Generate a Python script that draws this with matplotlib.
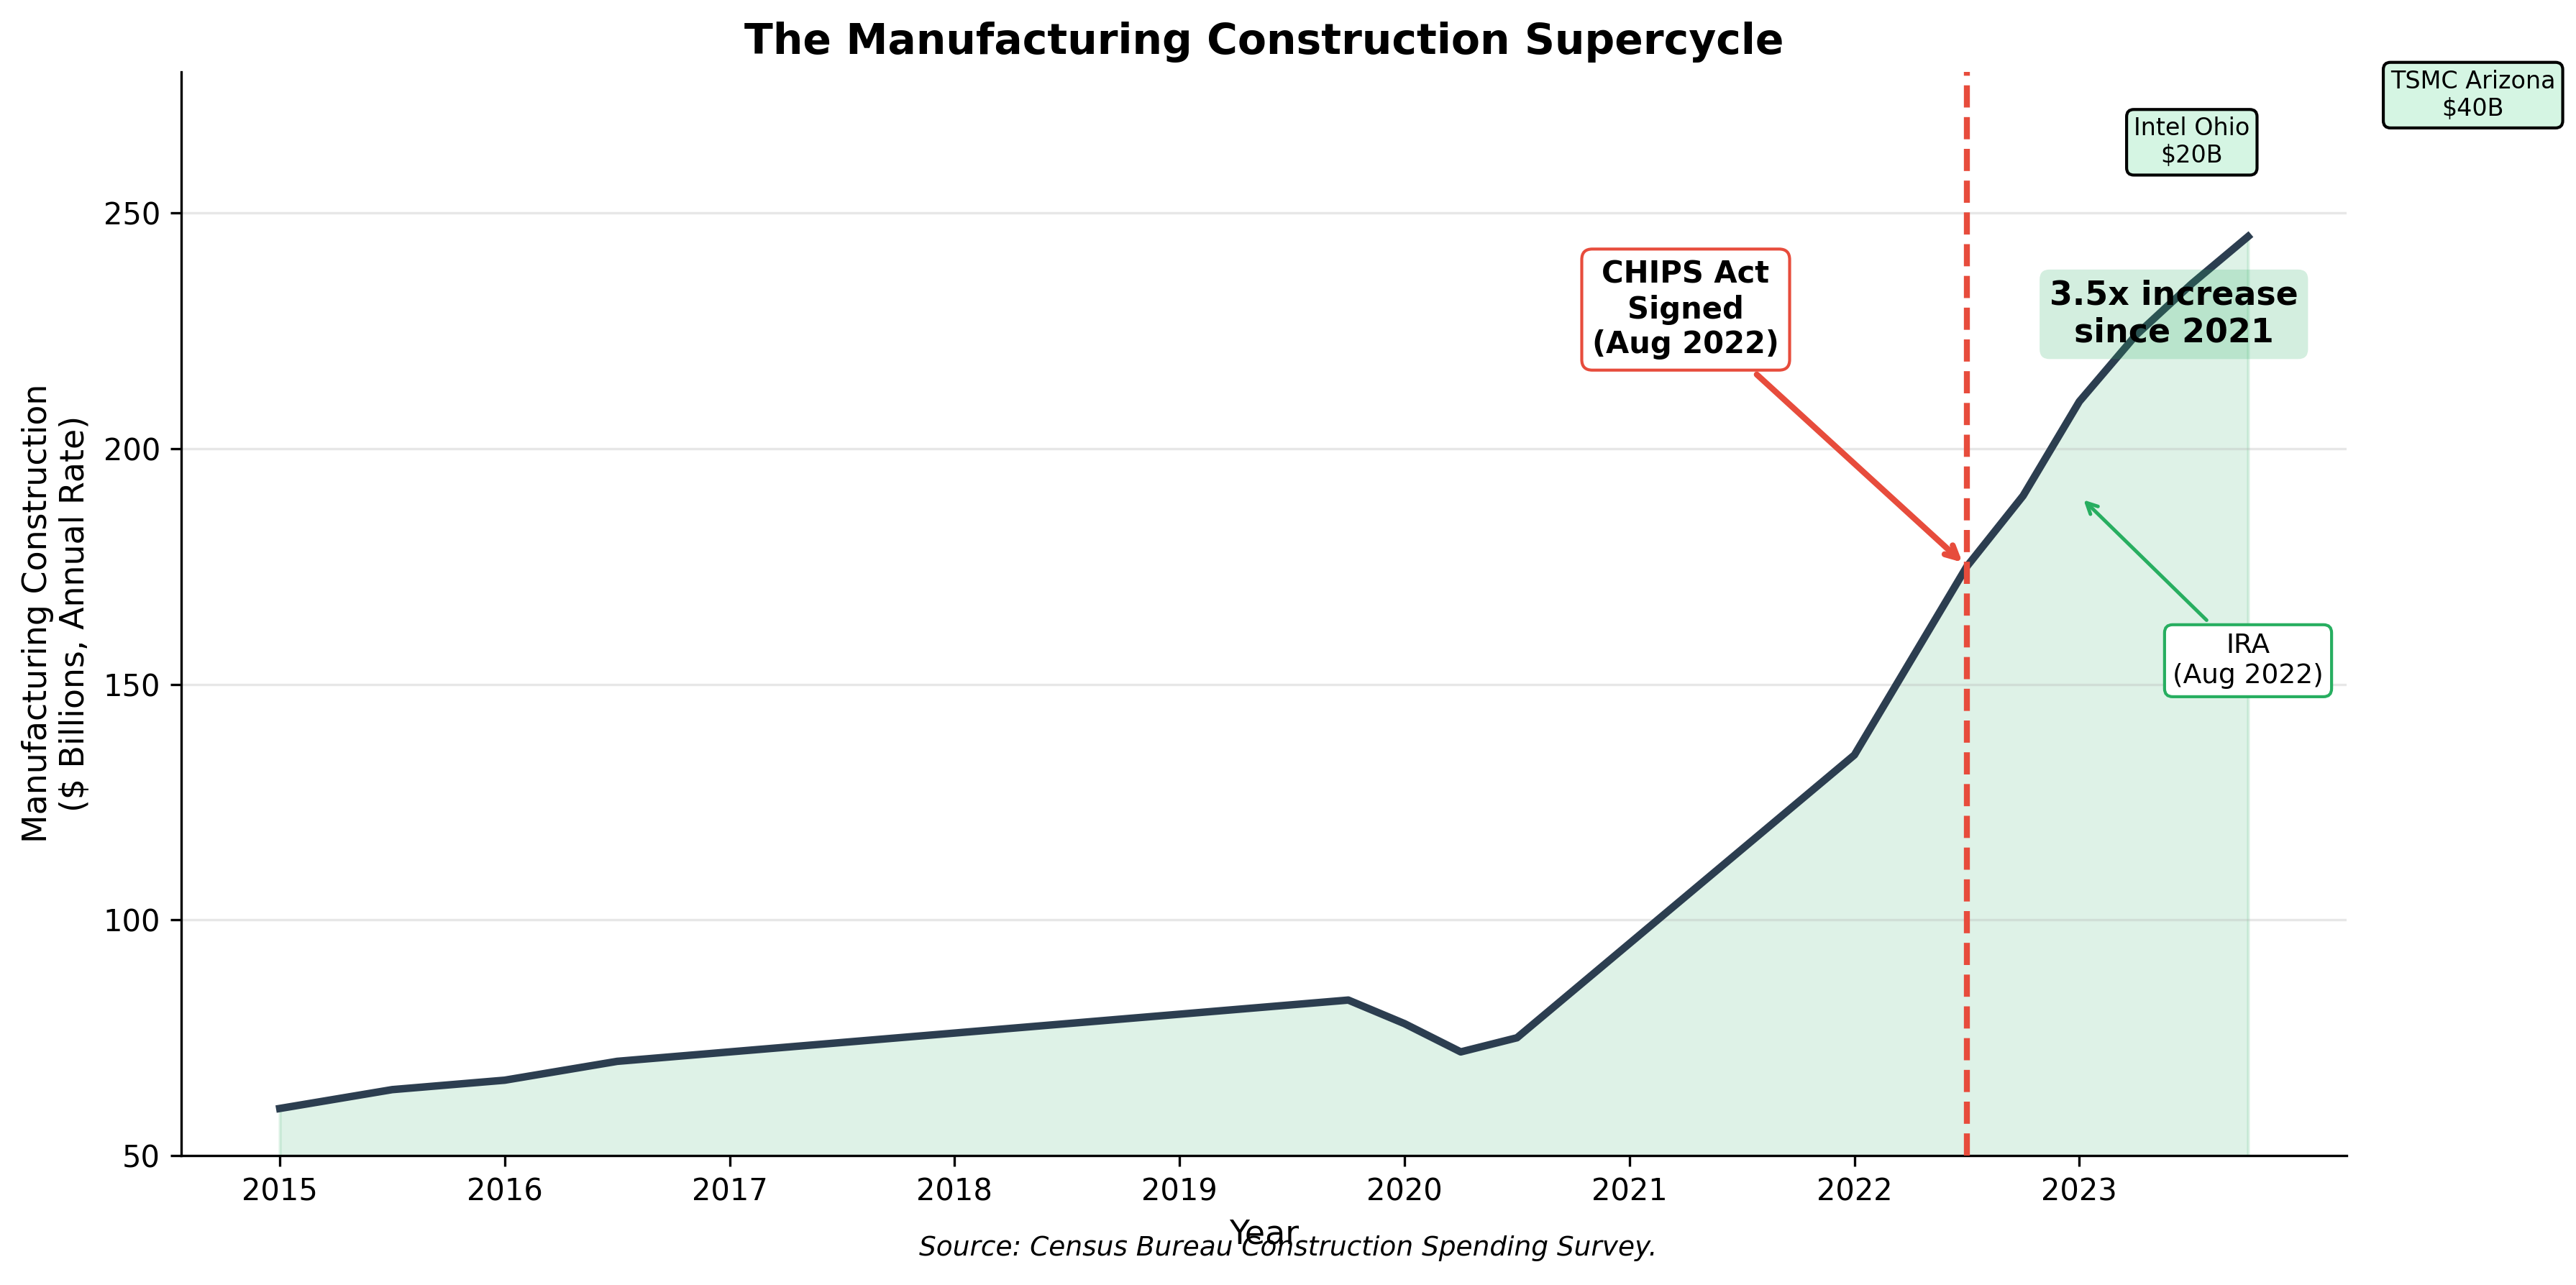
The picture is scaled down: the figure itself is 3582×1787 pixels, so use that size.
import numpy as np
import matplotlib
matplotlib.use("Agg")
import matplotlib.pyplot as plt

# Manufacturing construction spending ($B, annual rate)
years = [2015, 2015.5, 2016, 2016.5, 2017, 2018, 2019, 2019.75, 2020, 2020.25,
         2020.5, 2021, 2022, 2022.5, 2022.75, 2023, 2023.25, 2023.5, 2023.75]
spending = [60, 64, 66, 70, 72, 76, 80, 83, 78, 72,
            75, 95, 135, 175, 190, 210, 224, 235, 245]

year_ticks = [2015, 2016, 2017, 2018, 2019, 2020, 2021, 2022, 2023]
value_ticks = [50, 100, 150, 200, 250]

chips_date = 2022.5
chips_value = 175
ira_point = (2023.0, 190)
projects = [("Intel Ohio\n$20B", 2023.5, 265), ("TSMC Arizona\n$40B", 2024.75, 275)]

fig = plt.figure(figsize=(3582 / 300, 1787 / 300), dpi=300)
ax = fig.add_axes([0.0704, 0.1007, 0.8405, 0.8436])

ax.plot(years, spending, color='#2c3e50', linewidth=2.5, zorder=3)
ax.fill_between(years, spending, alpha=0.15, color='#27ae60')

# CHIPS Act line + callout
ax.axvline(chips_date, color='#e74c3c', linestyle='--', linewidth=2, zorder=4)
ax.annotate('CHIPS Act\nSigned\n(Aug 2022)', xy=(chips_date, chips_value),
            xytext=(2021.25, 229.5), fontsize=10, fontweight='bold',
            ha='center', va='center',
            bbox=dict(boxstyle='round,pad=0.35', facecolor='white', edgecolor='#e74c3c', linewidth=1),
            arrowprops=dict(arrowstyle='->', color='#e74c3c', lw=2))

ax.annotate('IRA\n(Aug 2022)', xy=ira_point, xytext=(2023.75, 155),
            fontsize=9, ha='center', va='center',
            bbox=dict(boxstyle='round,pad=0.3', facecolor='white', edgecolor='#27ae60', linewidth=1),
            arrowprops=dict(arrowstyle='->', color='#27ae60', lw=1.2))

ax.text(2023.42, 228.5, '3.5x increase\nsince 2021', fontsize=11, fontweight='bold',
        ha='center', va='center',
        bbox=dict(boxstyle='round,pad=0.3', facecolor='#27ae60', alpha=0.2, edgecolor='none'))

for label, px, py in projects:
    ax.text(px, py, label, fontsize=8, ha='center', va='center',
            bbox=dict(boxstyle='round,pad=0.3', facecolor='#d5f5e3', edgecolor='black', linewidth=1))

ax.set_ylim(50, 280)
ax.set_xticks(year_ticks)
ax.set_yticks(value_ticks)
ax.tick_params(labelsize=10)
ax.set_xlabel('Year', fontsize=11)
ax.set_ylabel('Manufacturing Construction\n($ Billions, Annual Rate)', fontsize=11)
ax.set_title('The Manufacturing Construction Supercycle', fontsize=14, fontweight='bold')
ax.grid(axis='y', alpha=0.3)
ax.spines['top'].set_visible(False)
ax.spines['right'].set_visible(False)

fig.text(0.5, 51 / 1787, 'Source: Census Bureau Construction Spending Survey.',
         ha='center', va='center', fontsize=9, style='italic')

fig.savefig('out.png', dpi=300)
